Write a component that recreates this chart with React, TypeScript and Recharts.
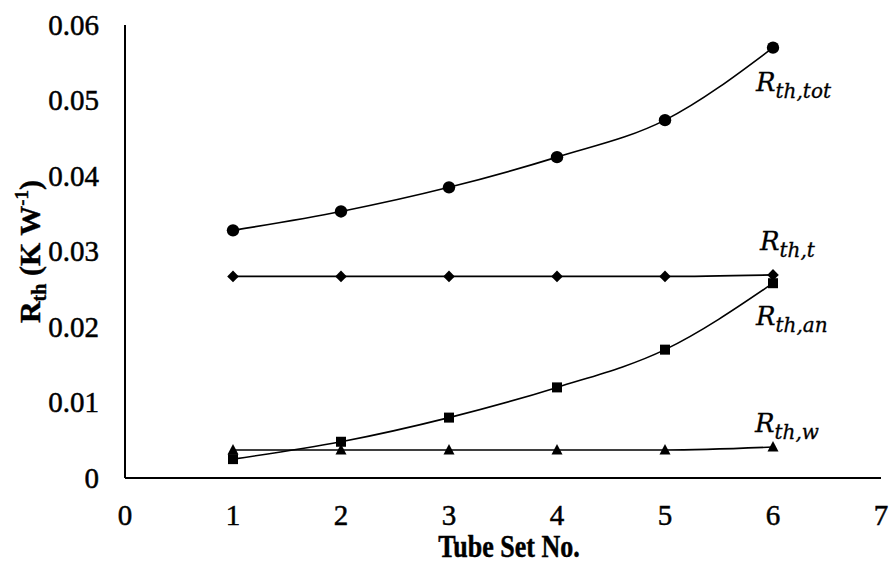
import React from 'react';
import { LineChart, Line, XAxis, YAxis, LabelList } from 'recharts';

const tubeSets = [1, 2, 3, 4, 5, 6];
const rTot = [0.0328, 0.0353, 0.0385, 0.0425, 0.0474, 0.057];
const rT = [0.0267, 0.0267, 0.0267, 0.0267, 0.0267, 0.0269];
const rAn = [0.0025, 0.0048, 0.008, 0.012, 0.017, 0.0258];
const rW = [0.0037, 0.0037, 0.0037, 0.0037, 0.0037, 0.0041];
const xTicks = [0, 1, 2, 3, 4, 5, 6, 7];
const yTicks = [0, 0.01, 0.02, 0.03, 0.04, 0.05, 0.06];

const data = tubeSets.map((x, i) => ({ x, tot: rTot[i], t: rT[i], an: rAn[i], w: rW[i] }));

const SERIF = '"Liberation Serif", "Times New Roman", serif';
const MATH = '"DejaVu Serif", serif';

const circleDot = (p: any) => (
  <circle key={`c${p.index}`} cx={p.cx} cy={p.cy} r={6.2} fill="#000" />
);
const diamondDot = (p: any) => (
  <polygon
    key={`d${p.index}`}
    points={`${p.cx},${p.cy - 5.8} ${p.cx + 5.8},${p.cy} ${p.cx},${p.cy + 5.8} ${p.cx - 5.8},${p.cy}`}
    fill="#000"
  />
);
const squareDot = (p: any) => (
  <rect key={`s${p.index}`} x={p.cx - 5} y={p.cy - 5} width={10} height={10} fill="#000" />
);
const triangleDot = (p: any) => (
  <polygon
    key={`t${p.index}`}
    points={`${p.cx},${p.cy - 6} ${p.cx + 5.5},${p.cy + 4.5} ${p.cx - 5.5},${p.cy + 4.5}`}
    fill="#000"
  />
);

const endLabel = (sub: string, dx: number, dy: number) => (props: any) => {
  if (props.index !== tubeSets.length - 1) return null;
  const x = Number(props.x) + dx;
  const y = Number(props.y) + dy;
  return (
    <text
      x={x}
      y={y}
      fill="#000"
      stroke="#000"
      strokeWidth={0.3}
      style={{ fontFamily: MATH, fontStyle: 'italic', fontSize: 26 }}
    >
      <tspan>R</tspan>
      <tspan dy={7} style={{ fontSize: 20 }}>{sub}</tspan>
    </text>
  );
};

const XTick = (props: any) => (
  <text
    x={props.x}
    y={props.y}
    dy="0.71em"
    textAnchor="middle"
    fill="#000"
    stroke="#000"
    strokeWidth={0.5}
    style={{ fontFamily: SERIF, fontSize: 29 }}
  >
    {props.payload.value}
  </text>
);

const YTick = (props: any) => {
  const v = props.payload.value;
  return (
    <text
      x={props.x}
      y={props.y}
      dy="0.34em"
      textAnchor="end"
      fill="#000"
      stroke="#000"
      strokeWidth={0.5}
      style={{ fontFamily: SERIF, fontSize: 29 }}
    >
      {v === 0 ? '0' : v.toFixed(2)}
    </text>
  );
};

const xLabel = (props: any) => {
  const vb = props.viewBox || {};
  const cx = (vb.x || 0) + (vb.width || 0) / 2 + 6;
  const by = (vb.y || 0) + (vb.height || 0) - 11;
  return (
    <text
      x={0}
      y={0}
      transform={`translate(${cx} ${by}) scale(1 1.2)`}
      textAnchor="middle"
      fill="#000"
      stroke="#000"
      strokeWidth={0.4}
      style={{ fontFamily: SERIF, fontWeight: 'bold', fontSize: 26 }}
    >
      Tube Set No.
    </text>
  );
};

const yLabel = (props: any) => {
  const vb = props.viewBox || {};
  const cx = (vb.x || 0) + 40;
  const cy = (vb.y || 0) + (vb.height || 0) / 2;
  return (
    <text
      x={cx}
      y={cy}
      transform={`rotate(-90 ${cx} ${cy})`}
      textAnchor="middle"
      fill="#000"
      stroke="#000"
      strokeWidth={0.4}
      style={{ fontFamily: SERIF, fontWeight: 'bold', fontSize: 30 }}
    >
      <tspan>R</tspan>
      <tspan dy={6} style={{ fontSize: 20 }}>th</tspan>
      <tspan dy={-6}> (K W</tspan>
      <tspan dy={-12} style={{ fontSize: 19 }}>-1</tspan>
      <tspan dy={12}>)</tspan>
    </text>
  );
};

export default function App() {
  return (
    <div style={{ position: 'absolute', left: 0, top: 0, background: '#fff' }}>
      <LineChart width={889} height={568} data={data} margin={{ top: 25, right: 8, bottom: 0, left: 0 }}>
        <XAxis
          type="number"
          dataKey="x"
          domain={[0, 7]}
          ticks={xTicks}
          interval={0}
          height={90}
          tickLine={false}
          tickSize={0}
          tickMargin={26}
          axisLine={{ stroke: '#000', strokeWidth: 2 }}
          tick={XTick}
          label={{ content: xLabel }}
        />
        <YAxis
          type="number"
          domain={[0, 0.06]}
          ticks={yTicks}
          interval={0}
          width={125}
          tickLine={false}
          tickSize={0}
          tickMargin={26}
          axisLine={{ stroke: '#000', strokeWidth: 2 }}
          tick={YTick}
          label={{ content: yLabel }}
        />
        <Line type="monotone" dataKey="tot" stroke="#000" strokeWidth={1.6} dot={circleDot} isAnimationActive={false}>
          <LabelList dataKey="tot" content={endLabel('th,tot', -17, 43)} />
        </Line>
        <Line type="monotone" dataKey="t" stroke="#000" strokeWidth={1.6} dot={diamondDot} isAnimationActive={false}>
          <LabelList dataKey="t" content={endLabel('th,t', -13, -25)} />
        </Line>
        <Line type="monotone" dataKey="an" stroke="#000" strokeWidth={1.6} dot={squareDot} isAnimationActive={false}>
          <LabelList dataKey="an" content={endLabel('th,an', -17, 42)} />
        </Line>
        <Line type="monotone" dataKey="w" stroke="#000" strokeWidth={1.6} dot={triangleDot} isAnimationActive={false}>
          <LabelList dataKey="w" content={endLabel('th,w', -18, -15)} />
        </Line>
      </LineChart>
    </div>
  );
}
